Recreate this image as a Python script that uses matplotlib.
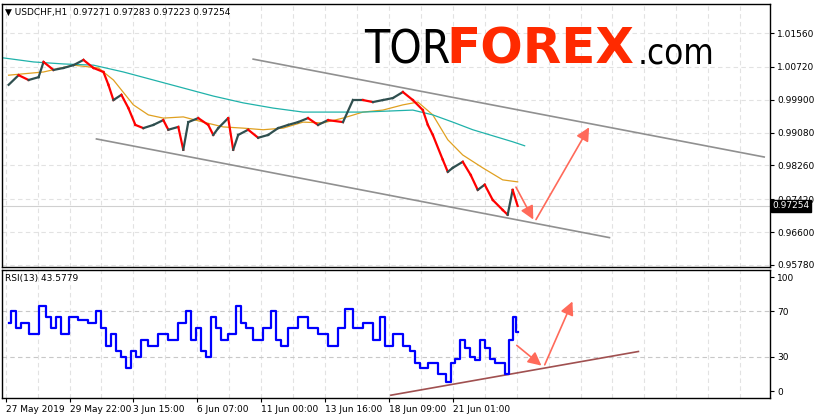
import matplotlib
matplotlib.use("Agg")
import matplotlib.pyplot as plt
import numpy as np

# price path (bar position, close)
px = [5, 15, 25, 35, 40, 50, 60, 70, 80, 90, 100, 105, 110, 118, 125, 132, 140, 150, 160, 165,
      175, 180, 185, 195, 205, 210, 215, 225, 230, 235, 245, 255, 265, 275, 285, 295, 305, 315,
      325, 340, 350, 360, 370, 380, 390, 400, 410, 420, 425, 430, 440, 445, 450, 460, 468, 475,
      482, 490, 500, 505, 510, 515]
close = [1.0027, 1.0051, 1.0039, 1.0046, 1.0084, 1.0064, 1.0069, 1.0076, 1.0089, 1.0069, 1.0059,
         1.0027, 0.9989, 1.0002, 0.9969, 0.9927, 0.9919, 0.9927, 0.9939, 0.9915, 0.9922, 0.9865,
         0.9934, 0.9944, 0.9927, 0.9902, 0.9919, 0.9944, 0.9865, 0.9902, 0.9915, 0.9895, 0.9902,
         0.9919, 0.9927, 0.9934, 0.9944, 0.9927, 0.9939, 0.9934, 0.9989, 0.9989, 0.9984, 0.9989,
         0.9994, 1.0009, 0.9989, 0.9964, 0.9927, 0.9902, 0.9840, 0.9810, 0.9820, 0.9835, 0.9802,
         0.9765, 0.9778, 0.9740, 0.9715, 0.9703, 0.9765, 0.9725]

ma_fast_x = [5, 40, 70, 95, 110, 130, 145, 160, 180, 200, 220, 240, 260, 280, 300, 320, 340, 360,
             380, 400, 415, 430, 445, 460, 480, 500, 515]
ma_fast = [1.0051, 1.0059, 1.0076, 1.0069, 1.0039, 0.9977, 0.9952, 0.9944, 0.9947, 0.9934, 0.9922,
           0.9919, 0.9915, 0.9919, 0.9934, 0.9932, 0.9944, 0.9959, 0.9964, 0.9977, 0.9984, 0.9952,
           0.9890, 0.9852, 0.9820, 0.9790, 0.9785]
ma_slow_x = [0, 30, 60, 90, 120, 150, 180, 210, 240, 270, 300, 330, 360, 390, 410, 430, 450, 470,
             490, 510, 522]
ma_slow = [1.0094, 1.0084, 1.0079, 1.0076, 1.0059, 1.0039, 1.0019, 0.9999, 0.9982, 0.9969, 0.9959,
           0.9959, 0.9959, 0.9962, 0.9964, 0.9952, 0.9934, 0.9915, 0.9900, 0.9885, 0.9875]

rsi_x = [5, 10, 15, 20, 30, 40, 45, 50, 55, 60, 70, 80, 90, 95, 100, 105, 110, 115, 120, 125, 130,
         135, 140, 150, 160, 170, 180, 185, 190, 195, 200, 205, 210, 215, 220, 230, 235, 240, 245,
         255, 265, 270, 275, 280, 290, 300, 310, 320, 330, 340, 345, 355, 365, 375, 380, 385, 395,
         405, 410, 415, 420, 430, 440, 446, 450, 455, 460, 465, 470, 475, 480, 485, 490, 495, 500,
         505, 508, 512, 515]
rsi = [60, 70, 55, 60, 50, 75, 65, 55, 65, 50, 65, 62, 60, 70, 55, 40, 50, 35, 30, 20, 35, 30, 45,
       40, 50, 45, 60, 70, 45, 55, 35, 30, 65, 55, 45, 50, 75, 60, 55, 45, 55, 70, 45, 40, 55, 65,
       55, 50, 40, 55, 72, 55, 60, 45, 65, 40, 50, 40, 35, 25, 20, 25, 15, 8, 25, 28, 45, 38, 30,
       27, 45, 38, 28, 25, 25, 15, 45, 65, 52]

upper_channel = [(250, 1.0091), (762, 0.9847)]
lower_channel = [(93, 0.9892), (607, 0.9646)]
price_arrows = [(512, 0.9778, 532, 0.9685), (532, 0.9685, 588, 0.9927)]
rsi_trend = [(388, -3.5), (636, 34.8)]
rsi_arrows = [(512, 41.7, 541, 20.9), (541, 20.9, 571, 80.9)]

price_ticks = [1.01560, 1.00720, 0.99900, 0.99080, 0.98260, 0.97420, 0.96600, 0.95780]
rsi_ticks = [0, 30, 70, 100]
date_pos = [2, 66, 130, 194, 258, 322, 386, 450]
date_labels = ["27 May 2019", "29 May 22:00", "3 Jun 15:00", "6 Jun 07:00", "11 Jun 00:00",
               "13 Jun 16:00", "18 Jun 09:00", "21 Jun 01:00"]
last_price = 0.97254

fig = plt.figure(figsize=(8.15, 4.19), dpi=100)
ax = fig.add_axes([0.002, 0.363, 0.943, 0.627])
ax2 = fig.add_axes([0.002, 0.05, 0.943, 0.305])

grid_x = np.arange(2, 770, 32)
for a in (ax, ax2):
    a.set_xlim(-2, 768)
    for gx in grid_x:
        a.axvline(gx, color="#e2e2e2", ls=(0, (4, 3)), lw=0.8, zorder=0)
    for s in a.spines.values():
        s.set_color("black")
        s.set_linewidth(1)
    a.yaxis.tick_right()
    a.tick_params(axis="y", labelsize=6.5, length=3, pad=2)

ax.set_ylim(0.9573, 1.0228)
ax.set_yticks(price_ticks)
ax.set_yticklabels([f"{t:.5f}" for t in price_ticks])
ax.set_xticks([])
for t in price_ticks:
    ax.axhline(t, color="#e2e2e2", ls=(0, (4, 3)), lw=0.8, zorder=0)

# candles-ish: segment colored by direction
for i in range(1, len(px)):
    col = "#ff0000" if close[i] < close[i - 1] else "#2f4f4f"
    ax.plot(px[i - 1:i + 1], close[i - 1:i + 1], color=col, lw=1.6, zorder=3)
ax.plot(ma_fast_x, ma_fast, color="#e0a020", lw=0.9, zorder=2)
ax.plot(ma_slow_x, ma_slow, color="#20b2aa", lw=0.9, zorder=2)
for ch in (upper_channel, lower_channel):
    ax.plot([ch[0][0], ch[1][0]], [ch[0][1], ch[1][1]], color="#909090", lw=1.2, zorder=2)
ax.axhline(last_price, color="#d0d0d0", lw=0.8, zorder=1)
for x0, y0, x1, y1 in price_arrows:
    ax.annotate("", xy=(x1, y1), xytext=(x0, y0),
                arrowprops=dict(arrowstyle="-|>,head_length=0.8,head_width=0.4",
                                color="#ff6a5a", lw=1.2), zorder=4)
ax.text(1.003, (last_price - 0.9573) / (1.0228 - 0.9573), f"{last_price:.5f}",
        transform=ax.transAxes, fontsize=6.5, color="white", va="center", ha="left",
        bbox=dict(facecolor="black", edgecolor="black", pad=1))
ax.text(0.005, 0.985, "▼ USDCHF,H1  0.97271 0.97283 0.97223 0.97254", transform=ax.transAxes,
        fontsize=6.5, va="top", ha="left")

# logo
fig.text(0.447, 0.848, "TOR", fontsize=33, family="DejaVu Sans", stretch="condensed",
         color="black", va="baseline")
fig.text(0.548, 0.848, "FOREX", fontsize=36, fontweight="heavy", color="#ff2a00", va="baseline")
fig.text(0.782, 0.848, ".com", fontsize=25, family="DejaVu Sans", stretch="condensed",
         color="black", va="baseline")

ax2.set_ylim(-6, 106)
ax2.set_yticks(rsi_ticks)
ax2.set_yticklabels([str(t) for t in rsi_ticks])
for t in (30, 70):
    ax2.axhline(t, color="#c8c8c8", ls=(0, (4, 3)), lw=0.8, zorder=0)
ax2.step(rsi_x, rsi, where="mid", color="#0000ff", lw=1.6, zorder=3)
ax2.plot([rsi_trend[0][0], rsi_trend[1][0]], [rsi_trend[0][1], rsi_trend[1][1]],
         color="#a05050", lw=1.2, zorder=2)
for x0, y0, x1, y1 in rsi_arrows:
    ax2.annotate("", xy=(x1, y1), xytext=(x0, y0),
                 arrowprops=dict(arrowstyle="-|>,head_length=0.8,head_width=0.4",
                                 color="#ff6a5a", lw=1.2), zorder=4)
ax2.text(0.005, 0.97, "RSI(13) 43.5779", transform=ax2.transAxes, fontsize=6.5, va="top")
ax2.set_xticks(date_pos)
ax2.set_xticklabels(date_labels, ha="left")
ax2.tick_params(axis="x", labelsize=6.5, length=3, pad=2)

fig.savefig("out.png", dpi=100)
